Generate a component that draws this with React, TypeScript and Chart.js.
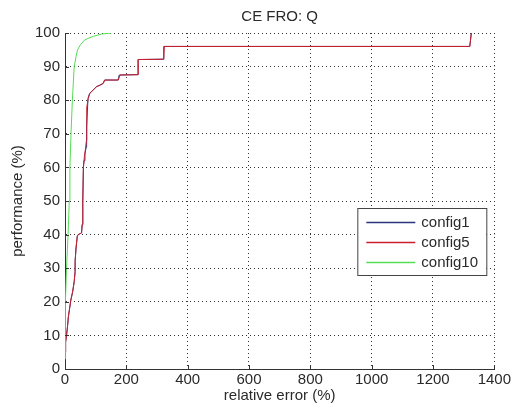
import React, { useEffect, useRef } from 'react';
import { Chart, registerables } from 'chart.js';

Chart.register(...registerables);

const chartTitle = 'CE FRO: Q';
const xAxisTitle = 'relative error (%)';
const yAxisTitle = 'performance (%)';
const xTickValues = [0, 200, 400, 600, 800, 1000, 1200, 1400];
const yTickValues = [0, 10, 20, 30, 40, 50, 60, 70, 80, 90, 100];
const seriesNames = ['config1', 'config5', 'config10'];
const seriesColors = ['#2a3580', '#cc1f2c', '#55dd55'];

const config1X = [0, 2, 5, 8, 11, 15, 19, 25, 30, 33, 33, 36, 40, 43, 54, 56, 58, 60, 62, 65, 69, 70, 71, 75, 80, 91, 102, 114, 124, 129, 173, 177, 238, 238, 321, 322, 1320, 1325];
const config1Y = [5, 8, 10, 12.5, 15.5, 18, 20.5, 23, 26, 29, 32, 36, 39.5, 40, 40.5, 43, 50, 60, 62, 64, 66, 68, 72, 80.5, 82, 83, 84, 84.5, 85, 86, 86, 87.5, 87.6, 92.1, 92.2, 96, 96, 100];
const config5X = [0, 2, 5, 8, 11, 15, 19, 25, 30, 33, 33, 36, 40, 43, 54, 56, 58, 60, 63, 66, 70, 71, 71, 76, 81, 92, 103, 115, 125, 130, 174, 179, 239, 239, 322, 324, 1320, 1325];
const config5Y = [5, 8, 10, 12.5, 15.5, 18, 20.5, 23, 26, 29, 32, 36, 39.5, 40, 40.5, 43, 50, 60, 63, 65, 68, 72, 78, 80.5, 82, 83, 84, 84.5, 85, 86, 86, 87.5, 87.6, 92.1, 92.2, 96, 96, 100];
const config10X = [0, 0.5, 2, 5, 10, 14, 16, 19.6, 24, 30, 36, 41, 50, 65, 92, 120, 152];
const config10Y = [3, 10, 20, 30, 40, 50, 60, 70, 80, 90, 93, 95, 96.5, 98, 99, 99.7, 100];

const FONT = '"Liberation Sans", Arial, sans-serif';
const TEXT = '#2a2a2a';

const toPoints = (xs: number[], ys: number[]) => xs.map((x, i) => ({ x, y: ys[i] }));

const decorPlugin = {
  id: 'decor',
  afterDatasetsDraw(chart: any) {
    const { ctx, chartArea, scales } = chart;
    const { left, right, top, bottom } = chartArea;
    ctx.save();
    // inward tick marks
    ctx.strokeStyle = '#333';
    ctx.lineWidth = 1;
    ctx.beginPath();
    xTickValues.forEach((v) => {
      const px = Math.round(scales.x.getPixelForValue(v)) + 0.5;
      ctx.moveTo(px, bottom);
      ctx.lineTo(px, bottom - 4);
    });
    yTickValues.forEach((v) => {
      const py = Math.round(scales.y.getPixelForValue(v)) + 0.5;
      ctx.moveTo(left, py);
      ctx.lineTo(left + 4, py);
    });
    ctx.stroke();
    // legend box
    const bx = right - 137;
    const by = top + 175;
    const bw = 129;
    const bh = 67;
    ctx.fillStyle = '#ffffff';
    ctx.fillRect(bx, by, bw, bh);
    ctx.strokeStyle = '#444';
    ctx.strokeRect(bx + 0.5, by + 0.5, bw, bh);
    ctx.font = `15px ${FONT}`;
    ctx.textBaseline = 'middle';
    ctx.textAlign = 'left';
    seriesNames.forEach((name, i) => {
      const ly = by + 13.5 + i * 20;
      ctx.strokeStyle = seriesColors[i];
      ctx.lineWidth = 1.5;
      ctx.beginPath();
      ctx.moveTo(bx + 9, Math.round(ly) + 0.5);
      ctx.lineTo(bx + 58, Math.round(ly) + 0.5);
      ctx.stroke();
      ctx.fillStyle = TEXT;
      ctx.fillText(name, bx + 64, ly + 1);
    });
    ctx.restore();
  },
};

export default function App() {
  const canvasRef = useRef<HTMLCanvasElement | null>(null);

  useEffect(() => {
    document.body.style.margin = '0';
    const canvas = canvasRef.current;
    if (!canvas) return;
    const chart = new Chart(canvas, {
      type: 'line',
      data: {
        datasets: [
          { label: seriesNames[0], data: toPoints(config1X, config1Y), borderColor: seriesColors[0], borderWidth: 1, pointRadius: 0, fill: false, tension: 0, order: 2 },
          { label: seriesNames[1], data: toPoints(config5X, config5Y), borderColor: seriesColors[1], borderWidth: 1, pointRadius: 0, fill: false, tension: 0, order: 1 },
          { label: seriesNames[2], data: toPoints(config10X, config10Y), borderColor: seriesColors[2], borderWidth: 1, pointRadius: 0, fill: false, tension: 0, order: 0 },
        ],
      },
      options: {
        animation: false,
        responsive: false,
        maintainAspectRatio: false,
        events: [],
        layout: { padding: { top: 0, right: 18, bottom: 0, left: 0 } },
        plugins: {
          legend: { display: false },
          tooltip: { enabled: false },
          title: {
            display: true,
            text: chartTitle,
            fullSize: false,
            color: TEXT,
            font: { family: FONT, size: 15, weight: 'normal', lineHeight: 1.2 },
            padding: { top: 8, bottom: 7 },
          },
        },
        scales: {
          x: {
            type: 'linear',
            min: 0,
            max: 1400,
            afterFit: (s: any) => { s.height = 43; },
            afterBuildTicks: (s: any) => { s.ticks = xTickValues.map((v) => ({ value: v })); },
            ticks: { color: TEXT, font: { family: FONT, size: 15 }, padding: 2, maxRotation: 0, autoSkip: false, callback: (v: any) => String(v) },
            grid: { color: '#333', lineWidth: 1, drawTicks: false },
            border: { display: true, color: '#333', width: 1, dash: [1, 3] },
            title: { display: true, text: xAxisTitle, color: TEXT, font: { family: FONT, size: 15, lineHeight: 1.2 }, padding: { top: 0, bottom: 7 } },
          },
          y: {
            type: 'linear',
            min: 0,
            max: 100,
            afterFit: (s: any) => { s.width = 65; },
            afterBuildTicks: (s: any) => { s.ticks = yTickValues.map((v) => ({ value: v })); },
            ticks: { color: TEXT, font: { family: FONT, size: 15 }, padding: 5, autoSkip: false, callback: (v: any) => String(v) },
            grid: { color: '#333', lineWidth: 1, drawTicks: false },
            border: { display: true, color: '#333', width: 1, dash: [1, 3] },
            title: { display: true, text: yAxisTitle, color: TEXT, font: { family: FONT, size: 15, lineHeight: 1.2 }, padding: { top: 9, bottom: 0 } },
          },
        },
      },
      plugins: [decorPlugin],
    });
    return () => chart.destroy();
  }, []);

  return <canvas ref={canvasRef} width={513} height={412} style={{ display: 'block' }} />;
}
